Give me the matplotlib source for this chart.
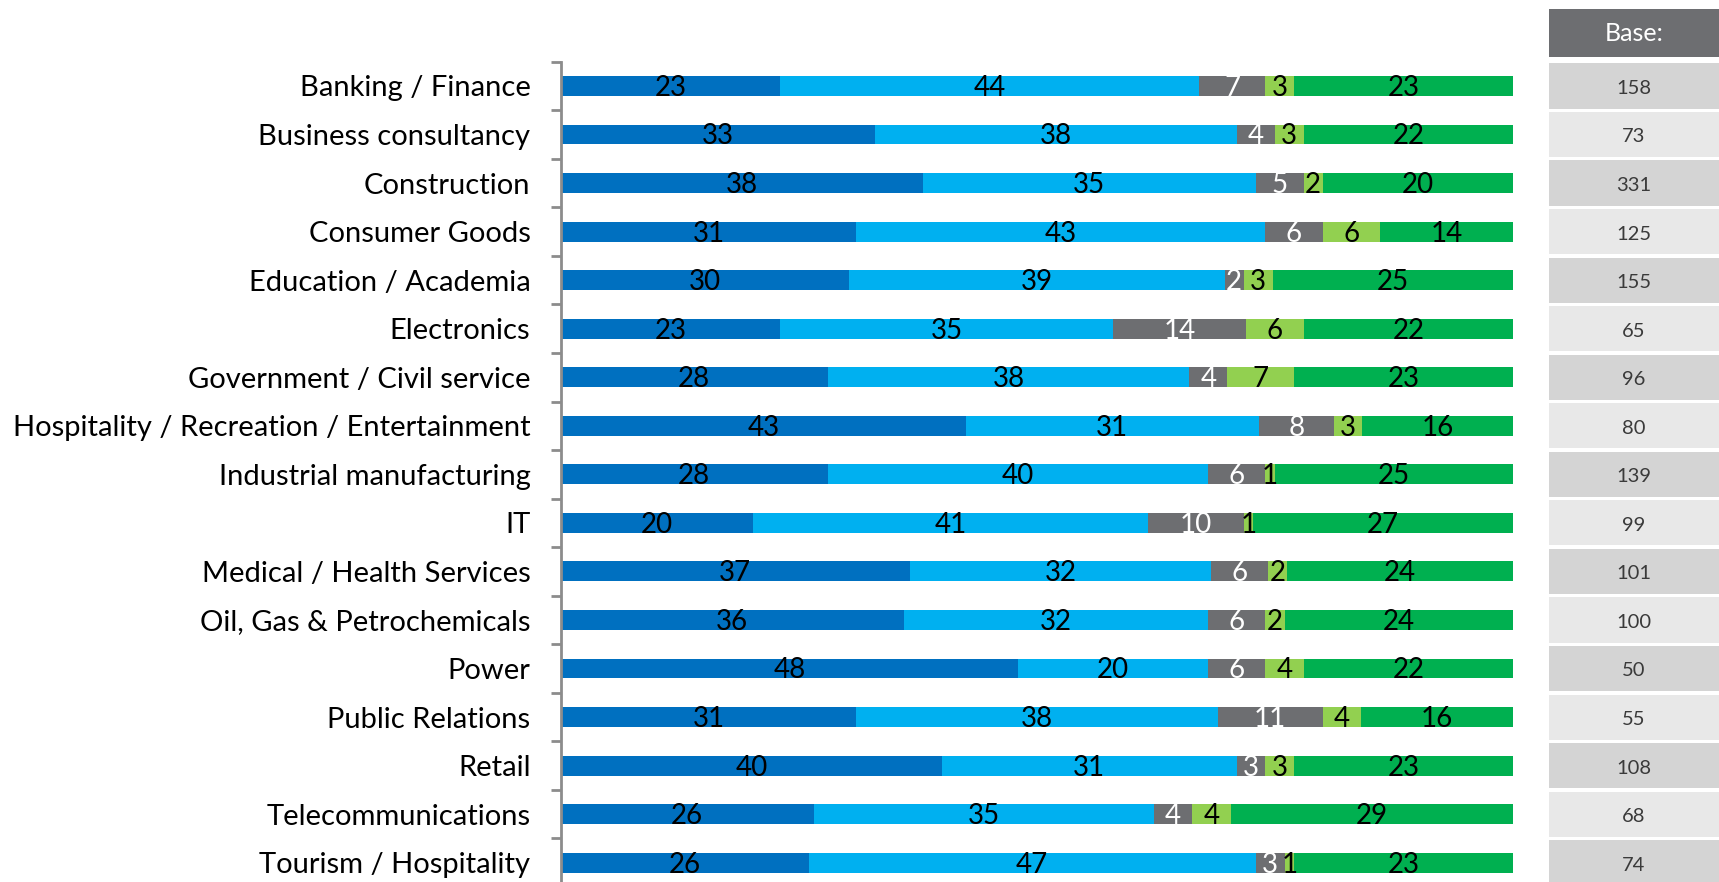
import numpy as np
import matplotlib
matplotlib.use('Agg')
import matplotlib.pyplot as plt

plt.rcParams['font.family'] = ['Lato', 'DejaVu Sans']

sectors = ['Banking / Finance', 'Business consultancy', 'Construction', 'Consumer Goods',
           'Education / Academia', 'Electronics', 'Government / Civil service',
           'Hospitality / Recreation / Entertainment', 'Industrial manufacturing', 'IT',
           'Medical / Health Services', 'Oil, Gas & Petrochemicals', 'Power',
           'Public Relations', 'Retail', 'Telecommunications', 'Tourism / Hospitality']

seg1 = [23, 33, 38, 31, 30, 23, 28, 43, 28, 20, 37, 36, 48, 31, 40, 26, 26]
seg2 = [44, 38, 35, 43, 39, 35, 38, 31, 40, 41, 32, 32, 20, 38, 31, 35, 47]
seg3 = [7, 4, 5, 6, 2, 14, 4, 8, 6, 10, 6, 6, 6, 11, 3, 4, 3]
seg4 = [3, 3, 2, 6, 3, 6, 7, 3, 1, 1, 2, 2, 4, 4, 3, 4, 1]
seg5 = [23, 22, 20, 14, 25, 22, 23, 16, 25, 27, 24, 24, 22, 16, 23, 29, 23]
base = [158, 73, 331, 125, 155, 65, 96, 80, 139, 99, 101, 100, 50, 55, 108, 68, 74]

colors = ['#0070c0', '#00b0f0', '#6d6e71', '#92d050', '#00b050']
text_colors = ['black', 'black', 'white', 'black', 'black']

W, H = 1719, 882
fig = plt.figure(figsize=(W / 100, H / 100), dpi=100)

ax_left, ax_right = 561 / W, 1513 / W
ax_top, ax_bot = 1 - 61.7 / H, 1 - 887 / H
ax = fig.add_axes([ax_left, ax_bot, ax_right - ax_left, ax_top - ax_bot])

segs = np.array([seg1, seg2, seg3, seg4, seg5], dtype=float)
totals = segs.sum(axis=0)
y = np.arange(len(sectors))
left = np.zeros(len(sectors))
for k in range(5):
    width = segs[k] / totals * 100
    ax.barh(y, width, left=left, height=0.41, color=colors[k], linewidth=0)
    for i in range(len(sectors)):
        ax.text(left[i] + width[i] / 2, y[i] + 0.04, '%d' % segs[k][i], ha='center', va='center',
                fontsize=20, color=text_colors[k])
    left += width

ax.set_xlim(0, 100)
ax.set_ylim(len(sectors) - 0.5, -0.5)
ax.set_yticks(y)
ax.set_yticklabels(sectors, fontsize=21)
ax.set_yticks(np.arange(-0.5, len(sectors), 1), minor=True)
ax.tick_params(axis='y', which='major', length=0, pad=22)
ax.tick_params(axis='y', which='minor', length=7, width=2, color='#8c8c8c', direction='out')
ax.set_xticks([])
for s in ['top', 'right', 'bottom']:
    ax.spines[s].set_visible(False)
ax.spines['left'].set_color('#8c8c8c')
ax.spines['left'].set_linewidth(2)

# base sizes column
bx = fig.add_axes([1549 / W, ax_bot, 1 - 1549 / W, ax_top - ax_bot], sharey=ax)
bx.axis('off')
bx.set_xlim(0, 1)
for i in range(len(sectors)):
    bx.barh(y[i], 1.2, left=0, height=0.93, color='#d4d4d4' if i % 2 == 0 else '#e8e8e8',
            linewidth=0, clip_on=False)
    bx.text(0.5, y[i] + 0.05, str(base[i]), ha='center', va='center', fontsize=14.5,
            color='#3a3a3a', clip_on=False)
bx.barh(-1.09, 1.2, left=0, height=0.99, color='#6d6e71', linewidth=0, clip_on=False)
bx.text(0.5, -1.09, 'Base:', ha='center', va='center', fontsize=18, color='white', clip_on=False)

fig.savefig('out.png', dpi=100)
